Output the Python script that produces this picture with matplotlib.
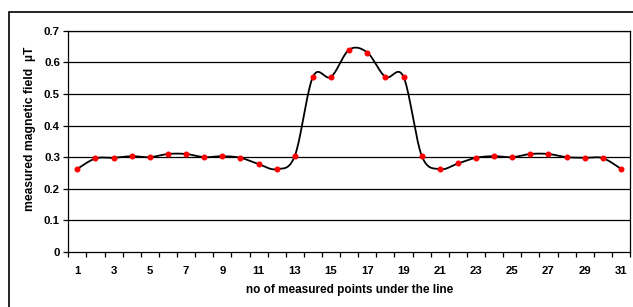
import numpy as np
import matplotlib
matplotlib.use('Agg')
import matplotlib.pyplot as plt
from matplotlib.patches import Rectangle

# measured points along the line
points = list(range(1, 32))
field = [0.263, 0.296, 0.298, 0.303, 0.300, 0.310, 0.310, 0.300, 0.303, 0.298,
         0.278, 0.262, 0.304, 0.554, 0.554, 0.640, 0.631, 0.554, 0.554, 0.305,
         0.262, 0.280, 0.298, 0.303, 0.300, 0.310, 0.310, 0.300, 0.298, 0.297,
         0.263]
y_ticks = [0, 0.1, 0.2, 0.3, 0.4, 0.5, 0.6, 0.7]
x_labels = [str(i) for i in range(1, 32, 2)]


def smooth(x, y, n=20):
    # catmull-rom style smoothing, like excel's smoothed line
    x = np.asarray(x, float)
    y = np.asarray(y, float)
    xs, ys = [], []
    for i in range(len(x) - 1):
        p0 = i - 1 if i > 0 else i
        p3 = i + 2 if i + 2 < len(x) else i + 1
        bx = [x[i], x[i] + (x[i + 1] - x[p0]) / 6, x[i + 1] - (x[p3] - x[i]) / 6, x[i + 1]]
        by = [y[i], y[i] + (y[i + 1] - y[p0]) / 6, y[i + 1] - (y[p3] - y[i]) / 6, y[i + 1]]
        t = np.linspace(0, 1, n)
        xs.extend((1 - t) ** 3 * bx[0] + 3 * (1 - t) ** 2 * t * bx[1] + 3 * (1 - t) * t ** 2 * bx[2] + t ** 3 * bx[3])
        ys.extend((1 - t) ** 3 * by[0] + 3 * (1 - t) ** 2 * t * by[1] + 3 * (1 - t) * t ** 2 * by[2] + t ** 3 * by[3])
    return xs, ys


def field_plot():
    plt.rcParams['font.family'] = ['Liberation Sans', 'DejaVu Sans']
    plt.rcParams['font.weight'] = 'bold'
    fig = plt.figure(figsize=(6.33, 3.07), dpi=100)
    ax = fig.add_axes([0.1079, 0.1792, 0.8874, 0.7208])

    for yv in y_ticks[1:]:
        ax.axhline(yv, color='black', lw=0.9, zorder=1)

    sx, sy = smooth(points, field)
    ax.plot(sx, sy, color='black', lw=1.3, zorder=2)
    ax.plot(points, field, ls='none', marker='o', ms=3.3, color='red', mec='red', zorder=3)

    ax.set_xlim(0.5, 31.5)
    ax.set_ylim(0, 0.7)
    ax.set_yticks(y_ticks)
    ax.set_yticklabels(['0'] + ['%.1f' % v for v in y_ticks[1:]], fontsize=8.2, fontweight='bold')
    ax.set_xticks(np.arange(0.5, 32, 1), minor=True)
    ax.set_xticks(range(1, 32, 2))
    ax.set_xticklabels(x_labels, fontsize=8.2, fontweight='bold')
    ax.tick_params(axis='x', which='major', length=0, pad=10)
    ax.tick_params(axis='x', which='minor', length=3.5, width=0.9, direction='out')
    ax.tick_params(axis='y', length=3.5, width=0.9, pad=2.5)
    for s in ax.spines.values():
        s.set_linewidth(0.9)
        s.set_color('black')

    ax.set_xlabel('no of measured points under the line', fontsize=8.5, fontweight='bold', labelpad=6)
    ax.set_ylabel('measured magnetic field  \u00b5T', fontsize=8.7, fontweight='bold', va='center')
    ax.yaxis.set_label_coords(-0.068, 0.556)

    fig.patches.append(Rectangle((9 / 633, -0.2), 1.2, 1.2 + (307 - 12.3) / 307 - 1.0,
                                 transform=fig.transFigure, fill=False, ec='black', lw=1.2))
    fig.savefig('out.png', dpi=100)


if __name__ == '__main__':
    field_plot()
